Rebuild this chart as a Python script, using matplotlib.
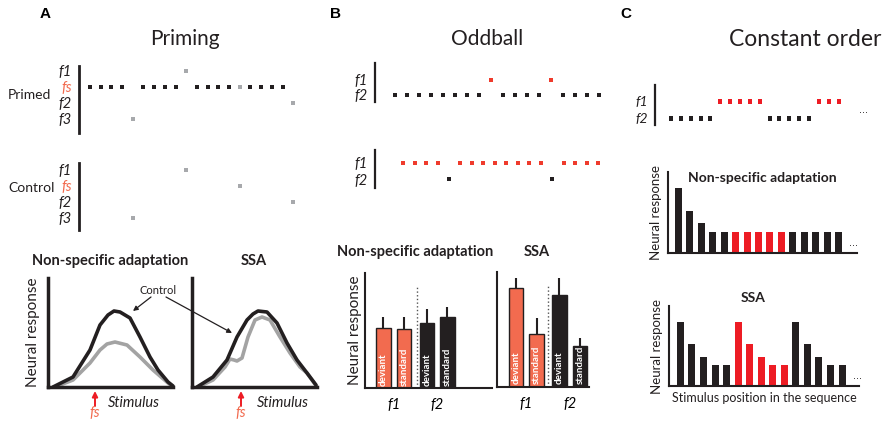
"""Schematic of priming, oddball and constant-order paradigms (three panels)."""

import matplotlib

matplotlib.use("Agg")
import matplotlib.pyplot as plt
import numpy as np
from matplotlib.path import Path

plt.rcParams["font.family"] = ["Lato", "DejaVu Sans"]

W, H = 892, 426
BLACK = "#231F20"
GRAY = "#A7A9AC"
SALMON = "#F26B4F"
RED = "#ED1C24"
ODD_RED = "#EF3B2C"

# ---- panel A: priming sequences ----
PRIMING_LEVELS = ["f3", "f2", "fs", "f1"]
PRIMED_TONES = (
    ["fs"] * 4 + ["f3"] + ["fs"] * 4 + ["f1"] + ["fs"] * 4 + ["fs"] + ["fs"] * 4 + ["f2"]
)
PRIMED_PROBES = [4, 9, 14, 19]
CONTROL_POS = [4, 9, 14, 19]
CONTROL_TONES = ["f3", "f1", "fs", "f2"]

# tuning curves (stimulus axis, response)
NSA_CTRL_X = [5, 25, 42, 52, 60, 66, 72, 82, 92, 102, 110, 120, 125]
NSA_CTRL_Y = [0, 10, 37, 62, 72, 76, 75, 69, 50, 30, 17, 5, 1]
NSA_PRIM_X = [7, 25, 42, 52, 59, 67, 79, 92, 105, 120, 124]
NSA_PRIM_Y = [0, 7, 24, 37, 43, 45, 42, 30, 17, 4, 1]
SSA_CTRL_X = [5, 21, 35, 45, 55, 61, 66, 75, 85, 95, 105, 115, 124]
SSA_CTRL_Y = [0, 10, 27, 50, 67, 73, 76, 75, 64, 44, 27, 14, 2]
SSA_PRIM_X = [6, 21, 33, 38, 42, 45, 50, 56, 63, 70, 78, 88, 98, 108, 115, 125]
SSA_PRIM_Y = [0, 7, 20, 28, 27, 26, 29, 50, 67, 70, 67, 50, 34, 20, 14, 0]

# ---- panel B: oddball ----
ODD_LEVELS = ["f2", "f1"]
ODD_SEQ_1 = ["f2"] * 8 + ["f1"] + ["f2"] * 4 + ["f1"] + ["f2"] * 4
ODD_SEQ_2 = ["f1"] * 4 + ["f2"] + ["f1"] * 8 + ["f2"] + ["f1"] * 4
BAR_LABELS = ["deviant", "standard", "deviant", "standard"]
BAR_GROUPS = ["f1", "f2"]
ODD_NSA_VALUES = [60, 59, 65, 71]
ODD_NSA_ERR = [11, 12, 14, 10]
ODD_SSA_VALUES = [99, 53, 92, 41]
ODD_SSA_ERR = [10, 16, 17, 8]

# ---- panel C: constant order ----
CONST_SEQ = ["f2"] * 5 + ["f1"] * 5 + ["f2"] * 5 + ["f1"] * 3
CONST_TONES = ["f2"] * 5 + ["f1"] * 5 + ["f2"] * 5
CONST_NSA_VALUES = [65, 42, 30, 21, 21] + [21] * 10
CONST_SSA_VALUES = [64, 42, 29, 21, 21] * 3


def _axes_px(fig, left, top, right, bottom):
    """Add axes from a pixel box measured from the top-left corner."""
    return fig.add_axes(
        [left / W, 1 - bottom / H, (right - left) / W, (bottom - top) / H]
    )


def _rect_marker(w, h):
    s = 0.5 / max(w, h)
    hw, hh = w * s, h * s
    return Path([(-hw, -hh), (hw, -hh), (hw, hh), (-hw, hh), (-hw, -hh)])


def _seq_axes(ax, levels, xlim, ylim, label_size=10.5, lw=2.0):
    ax.set_xlim(*xlim)
    ax.set_ylim(*ylim)
    for side in ["top", "right", "bottom"]:
        ax.spines[side].set_visible(False)
    ax.spines["left"].set_linewidth(lw)
    ax.spines["left"].set_color(BLACK)
    ax.set_xticks([])
    ax.set_yticks(range(len(levels)), labels=levels)
    ax.tick_params(axis="y", length=0, pad=5)
    for lab in ax.get_yticklabels():
        lab.set_fontstyle("italic")
        lab.set_fontsize(label_size)
        lab.set_color(SALMON if lab.get_text() == "fs" else BLACK)
    ax.patch.set_visible(False)


def _ellipsis(ax, x, y):
    ax.text(x, y, "...", fontsize=7, family="DejaVu Sans", ha="center",
            va="center", color=BLACK)


def _plot_priming(fig):
    fig.text(40, H - 14, "A", transform=None, fontsize=11, fontweight="bold",
             family="Liberation Sans", va="center")
    fig.text(185 / W, 1 - 39 / H, "Priming", fontsize=15, ha="center",
             va="center", color=BLACK)

    lvl = {t: i for i, t in enumerate(PRIMING_LEVELS)}
    dot_b = _rect_marker(3, 3)
    dot_g = _rect_marker(3, 4)

    # primed sequence
    ax = _axes_px(fig, 79, 66, 305, 133)
    _seq_axes(ax, PRIMING_LEVELS, (-1.03, 20.1), (-0.875, 3.31))
    for i, t in enumerate(PRIMED_TONES):
        probe = i in PRIMED_PROBES
        ax.plot(i, lvl[t], ls="none", marker=dot_g if probe else dot_b,
                ms=3.2 if probe else 2.6, color=GRAY if probe else BLACK, mew=0)
    fig.text(8 / W, 1 - 95 / H, "Primed", fontsize=10, va="center", color=BLACK)

    # control sequence
    ax = _axes_px(fig, 79, 163, 305, 230)
    _seq_axes(ax, PRIMING_LEVELS, (-1.03, 20.1), (-0.78, 3.41))
    for i, t in zip(CONTROL_POS, CONTROL_TONES):
        ax.plot(i, lvl[t], ls="none", marker=dot_g, ms=3.2, color=GRAY, mew=0)
    fig.text(8 / W, 1 - 188 / H, "Control", fontsize=10, va="center", color=BLACK)

    # tuning curves
    fig.text(110 / W, 1 - 261 / H, "Non-specific adaptation", fontsize=10.5,
             fontweight="bold", ha="center", va="center", color=BLACK)
    fig.text(254 / W, 1 - 261 / H, "SSA", fontsize=10.5, fontweight="bold",
             ha="center", va="center", color=BLACK)

    curves = [
        (48, NSA_CTRL_X, NSA_CTRL_Y, NSA_PRIM_X, NSA_PRIM_Y, 47, 86),
        (192, SSA_CTRL_X, SSA_CTRL_Y, SSA_PRIM_X, SSA_PRIM_Y, 49, 91),
    ]
    axes = []
    for left, cx, cy, px, py, fs_x, stim_x in curves:
        ax = _axes_px(fig, left, 278, left + 125, 387)
        ax.set_xlim(0, 125)
        ax.set_ylim(0, 109)
        for side in ["top", "right"]:
            ax.spines[side].set_visible(False)
        for side in ["left", "bottom"]:
            ax.spines[side].set_linewidth(2.5)
            ax.spines[side].set_color(BLACK)
        ax.set_xticks([])
        ax.set_yticks([])
        ax.patch.set_visible(False)
        ax.plot(px, py, color="#A3A3A3", lw=2.6, solid_joinstyle="round",
                solid_capstyle="round", clip_on=False)
        ax.plot(cx, cy, color=BLACK, lw=2.6, solid_joinstyle="round",
                solid_capstyle="round", clip_on=False)
        ax.annotate("", xy=(fs_x, -4), xytext=(fs_x, -19),
                    arrowprops=dict(arrowstyle="-|>", color=RED, lw=1.4,
                                    mutation_scale=8, shrinkA=0, shrinkB=0),
                    annotation_clip=False)
        ax.text(fs_x, -26, "fs", color=SALMON, fontsize=10.5, style="italic",
                ha="center", va="center")
        ax.text(stim_x, -16, "Stimulus", fontsize=10.5, style="italic",
                ha="center", va="center", color=BLACK)
        axes.append(ax)
    axes[0].set_ylabel("Neural response", fontsize=11, labelpad=6, color=BLACK)

    fig.text(158 / W, 1 - 291 / H, "Control", fontsize=8, ha="center",
             va="center", color=BLACK)
    arrow = dict(arrowstyle="-|>", color=BLACK, lw=0.9, mutation_scale=7,
                 shrinkA=0, shrinkB=0)
    axes[0].annotate("", xy=(85, 76), xytext=(151, H - 297),
                     textcoords="figure pixels", arrowprops=arrow,
                     annotation_clip=False)
    axes[1].annotate("", xy=(40, 54), xytext=(166, H - 297),
                     textcoords="figure pixels", arrowprops=arrow,
                     annotation_clip=False)


def _bar_axes(ax, values, errs, xlim, divider):
    pos = np.arange(len(values)) + np.array([0, 0, 0.12, 0.12])
    colors = [SALMON, SALMON, BLACK, BLACK]
    ax.bar(pos, values, width=0.7, color=colors, edgecolor=BLACK, linewidth=1.0)
    ax.errorbar(pos, values, yerr=[np.zeros(len(errs)), errs], fmt="none",
                ecolor=BLACK, elinewidth=1.5, capsize=0)
    for p, lab in zip(pos, BAR_LABELS):
        ax.text(p, 2.5, lab, rotation=90, color="white", fontsize=7,
                fontweight="bold", ha="center", va="bottom")
    ax.axvline(divider, ymax=0.9, ls=":", color="#555555", lw=1.0)
    ax.set_xlim(*xlim)
    ax.set_ylim(0, 115)
    for side in ["top", "right"]:
        ax.spines[side].set_visible(False)
    for side in ["left", "bottom"]:
        ax.spines[side].set_linewidth(1.5)
        ax.spines[side].set_color(BLACK)
    ax.set_yticks([])
    ax.set_xticks([0.5, 2.62], labels=BAR_GROUPS)
    ax.tick_params(axis="x", length=0, pad=7)
    for lab in ax.get_xticklabels():
        lab.set_fontstyle("italic")
        lab.set_fontsize(10.5)
    ax.patch.set_visible(False)


def _plot_oddball(fig):
    fig.text(330, H - 14, "B", transform=None, fontsize=11, fontweight="bold",
             family="Liberation Sans", va="center")
    fig.text(487 / W, 1 - 39 / H, "Oddball", fontsize=15, ha="center",
             va="center", color=BLACK)

    lvl = {t: i for i, t in enumerate(ODD_LEVELS)}
    dot_b = _rect_marker(3, 3)
    dot_r = _rect_marker(3, 4.5)
    specs = [
        (ODD_SEQ_1, 63, 102, (-1.67, 17.5), (-0.47, 2.13)),
        (ODD_SEQ_2, 150, 188, (-2.45, 17.6), (-0.56, 1.81)),
    ]
    for seq, top, bottom, xlim, ylim in specs:
        ax = _axes_px(fig, 375, top, 605, bottom)
        _seq_axes(ax, ODD_LEVELS, xlim, ylim, lw=1.6)
        for i, t in enumerate(seq):
            red = t == "f1"
            ax.plot(i, lvl[t], ls="none", marker=dot_r if red else dot_b,
                    ms=3.3 if red else 2.4, color=ODD_RED if red else BLACK, mew=0)

    fig.text(415 / W, 1 - 252 / H, "Non-specific adaptation", fontsize=10.5,
             fontweight="bold", ha="center", va="center", color=BLACK)
    fig.text(537 / W, 1 - 252 / H, "SSA", fontsize=10.5, fontweight="bold",
             ha="center", va="center", color=BLACK)

    ax = _axes_px(fig, 365, 273, 492, 388)
    _bar_axes(ax, ODD_NSA_VALUES, ODD_NSA_ERR, (-0.9, 5.29), 1.63)
    ax.set_ylabel("Neural response", fontsize=11, labelpad=2, color=BLACK)

    ax = _axes_px(fig, 497, 272, 589, 387)
    _bar_axes(ax, ODD_SSA_VALUES, ODD_SSA_ERR, (-0.93, 3.56), 1.56)


def _const_bars(ax, values, colors, xlim, ylim):
    pos = np.arange(len(values))
    ax.bar(pos, values, width=0.61, color=colors, linewidth=0)
    _ellipsis(ax, len(values) + 0.35, 10)
    ax.set_xlim(*xlim)
    ax.set_ylim(*ylim)
    for side in ["top", "right"]:
        ax.spines[side].set_visible(False)
    for side in ["left", "bottom"]:
        ax.spines[side].set_linewidth(1.5)
        ax.spines[side].set_color(BLACK)
    ax.set_xticks([])
    ax.set_yticks([])
    ax.patch.set_visible(False)


def _plot_constant(fig):
    fig.text(620, H - 14, "C", transform=None, fontsize=11, fontweight="bold",
             family="Liberation Sans", va="center")
    fig.text(805 / W, 1 - 39 / H, "Constant order", fontsize=16.5, ha="center",
             va="center", color=BLACK)

    lvl = {t: i for i, t in enumerate(ODD_LEVELS)}
    dot = _rect_marker(3, 5)
    ax = _axes_px(fig, 655, 85, 880, 125)
    _seq_axes(ax, ODD_LEVELS, (-1.62, 21.2), (-0.41, 1.94), label_size=10, lw=1.6)
    for i, t in enumerate(CONST_SEQ):
        ax.plot(i, lvl[t], ls="none", marker=dot, ms=3.6,
                color=RED if t == "f1" else BLACK, mew=0)
    _ellipsis(ax, 19.5, 0.45)

    colors = [RED if t == "f1" else BLACK for t in CONST_TONES]

    ax = _axes_px(fig, 668, 172, 857, 253)
    _const_bars(ax, CONST_NSA_VALUES, colors, (-0.92, 15.62), (0, 81))
    ax.text(0.5, 0.926, "Non-specific adaptation", transform=ax.transAxes,
            fontsize=10, fontweight="bold", ha="center", va="center", color=BLACK)
    ax.set_ylabel("Neural response", fontsize=9.5, labelpad=4, color=BLACK)

    ax = _axes_px(fig, 669, 306, 859, 386)
    _const_bars(ax, CONST_SSA_VALUES, colors, (-0.99, 15.47), (0, 80))
    ax.text(0.44, 1.1, "SSA", transform=ax.transAxes, fontsize=10,
            fontweight="bold", ha="center", va="center", color=BLACK)
    ax.set_ylabel("Neural response", fontsize=9.5, labelpad=4, color=BLACK)
    ax.set_xlabel("Stimulus position in the sequence", fontsize=9,
                  labelpad=4, color=BLACK)


def main():
    fig = plt.figure(figsize=(W / 100, H / 100), dpi=100)
    _plot_priming(fig)
    _plot_oddball(fig)
    _plot_constant(fig)
    fig.savefig("out.png", dpi=100)
    plt.close(fig)


if __name__ == "__main__":
    main()
